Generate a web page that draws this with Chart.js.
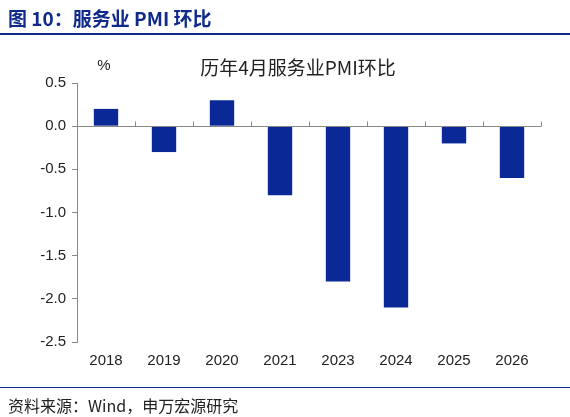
<!DOCTYPE html>
<html>
<head>
<meta charset="utf-8">
<script src="https://cdn.jsdelivr.net/npm/chart.js@4"></script>
<style>
body { margin: 0; width: 570px; height: 417px; position: relative; background: #fff; font-family: "Liberation Sans", "Noto Sans CJK SC", sans-serif; }
#head { position: absolute; left: 8px; top: 4px; font-size: 19px; font-weight: bold; color: #0f2a8a; font-family: "Noto Sans CJK SC", sans-serif; }
#hline { position: absolute; left: 0; top: 33px; width: 570px; height: 2px; background: #0f2a8a; }
#bline { position: absolute; left: 0; top: 387px; width: 570px; height: 1px; background: #0f2a8a; }
#foot { position: absolute; left: 8px; top: 393px; font-size: 16px; color: #222; font-family: "Noto Sans CJK SC", sans-serif; }
#c { position: absolute; left: 0; top: 0; }
</style>
</head>
<body>
<canvas id="c" width="570" height="417"></canvas>
<div id="head">图 10：服务业 PMI 环比</div>
<div id="hline"></div>
<div id="bline"></div>
<div id="foot">资料来源：Wind，申万宏源研究</div>
<script>
const years = ['2018', '2019', '2020', '2021', '2023', '2024', '2025', '2026'];
const pmiChange = [0.2, -0.3, 0.3, -0.8, -1.8, -2.1, -0.2, -0.6];

const zeroLine = {
    id: 'zeroLine',
    afterDatasetsDraw(chart) {
        const ctx = chart.ctx;
        const x = chart.scales.x, y = chart.scales.y;
        const y0 = Math.round(y.getPixelForValue(0)) + 0.5;
        ctx.save();
        ctx.strokeStyle = '#888';
        ctx.lineWidth = 1;
        ctx.beginPath();
        ctx.moveTo(x.left, y0);
        ctx.lineTo(x.right, y0);
        const step = (x.right - x.left) / years.length;
        for (let i = 0; i <= years.length; i++) {
            const px = Math.round(x.left + step * i) + 0.5;
            ctx.moveTo(px, y0);
            ctx.lineTo(px, y0 - 5);
        }
        ctx.stroke();
        ctx.fillStyle = '#222';
        ctx.font = '15px "Liberation Sans"';
        ctx.textAlign = 'center';
        ctx.fillText('%', 104, 70);
        ctx.font = '19px "Noto Sans CJK SC"';
        ctx.fillText('历年4月服务业PMI环比', 298, 75);
        ctx.restore();
    }
};

new Chart(document.getElementById('c'), {
    type: 'bar',
    data: {
        labels: years,
        datasets: [{
            data: pmiChange,
            backgroundColor: '#0a2896',
            barPercentage: 0.42,
            categoryPercentage: 1
        }]
    },
    options: {
        responsive: false,
        animation: false,
        layout: { padding: { left: 0, right: 29, top: 83, bottom: 45 } },
        plugins: { legend: { display: false }, tooltip: { enabled: false } },
        scales: {
            x: {
                grid: { display: false, drawTicks: false },
                border: { display: false },
                ticks: { color: '#222', font: { size: 15, family: 'Liberation Sans' }, padding: 10 },
                afterFit(s) { s.height = 30; }
            },
            y: {
                min: -2.5, max: 0.5,
                grid: { drawOnChartArea: false, tickLength: 5, color: '#888' },
                border: { display: true, color: '#888' },
                ticks: {
                    stepSize: 0.5, color: '#222', padding: 6,
                    font: { size: 15, family: 'Liberation Sans' },
                    callback: v => v.toFixed(1)
                },
                afterFit(s) { s.width = 77; }
            }
        }
    },
    plugins: [zeroLine]
});
</script>
</body>
</html>
